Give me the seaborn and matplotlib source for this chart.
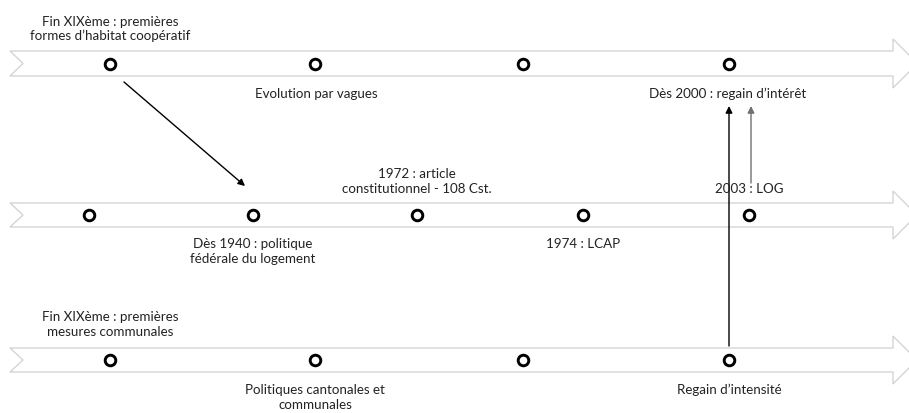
import matplotlib
matplotlib.use("Agg")
import matplotlib.pyplot as plt
import seaborn as sns
import pandas as pd
from matplotlib.patches import Polygon

# ---------------- data ----------------
# timeline rows: band vertical extents (top, bottom) in figure pixels
row_names = ["habitat", "federal", "communal"]
row_band_top = [52, 204, 349]
row_band_bottom = [77, 228, 373]

# milestone circles (x position along timeline, row index)
circle_x = [110, 315, 523, 729,
            89, 253, 417, 583, 749,
            110, 315, 523, 729]
circle_row = [0, 0, 0, 0,
              1, 1, 1, 1, 1,
              2, 2, 2, 2]

# labels: text lines, centre x, centre y of each line
label_text = [
    ["Fin XIXème : premières", "formes d’habitat coopératif"],
    ["Evolution par vagues"],
    ["Dès 2000 : regain d’intérêt"],
    ["1972 : article", "constitutionnel - 108 Cst."],
    ["Dès 1940 : politique", "fédérale du logement"],
    ["1974 : LCAP"],
    ["2003 : LOG"],
    ["Fin XIXème : premières", "mesures communales"],
    ["Politiques cantonales et", "communales"],
    ["Regain d’intensité"],
]
label_x = [110, 316, 728, 417, 253, 583, 749, 110, 315, 729]
label_y = [21, 94, 94, 174, 244, 244, 189, 317, 390, 390]

# connector arrows (start -> end) and colours
conn_start = [(124, 83), (729, 347), (751, 184)]
conn_end = [(245, 187), (729, 107), (751, 107)]
conn_color = ["#000000", "#000000", "#707070"]

# ---------------- figure ----------------
W, H = 909, 414
sns.set_theme(style="white")
plt.rcParams["font.family"] = ["Lato", "DejaVu Sans"]
fig = plt.figure(figsize=(W / 100, H / 100), dpi=100)
ax = fig.add_axes([0, 0, 1, 1])

# bands (arrow shapes)
for top, bot in zip(row_band_top, row_band_bottom):
    c = (top + bot) / 2
    half = (bot - top) / 2
    head = half + 12
    pts = [(10, top), (893, top), (893, c - head), (893 + head, c),
           (893, c + head), (893, bot), (10, bot), (23, c)]
    ax.add_patch(Polygon(pts, closed=True, facecolor="white",
                         edgecolor="#d4d4d4", linewidth=1.0, zorder=1,
                         clip_on=False))

# circles
circ_y = [(row_band_top[r] + row_band_bottom[r]) / 2 for r in circle_row]
df = pd.DataFrame({"x": circle_x, "y": circ_y})
sns.scatterplot(data=df, x="x", y="y", ax=ax, marker="o", s=58,
                facecolor="white", edgecolor="black", linewidth=2.1,
                zorder=4, legend=False)
ax.set_xlim(0, W)
ax.set_ylim(H, 0)
ax.axis("off")

# labels
for lines, lx, ly in zip(label_text, label_x, label_y):
    for i, t in enumerate(lines):
        ax.text(lx, ly + i * 15 + 4.5, t, ha="center", va="baseline",
                fontsize=9.6, color="#222222", zorder=5)

# connectors
for s, e, col in zip(conn_start, conn_end, conn_color):
    ax.annotate("", xy=e, xytext=s,
                arrowprops=dict(arrowstyle="-|>", color=col, lw=1.0,
                                mutation_scale=10, shrinkA=0, shrinkB=0),
                zorder=3)

fig.savefig("out.png", dpi=100)
